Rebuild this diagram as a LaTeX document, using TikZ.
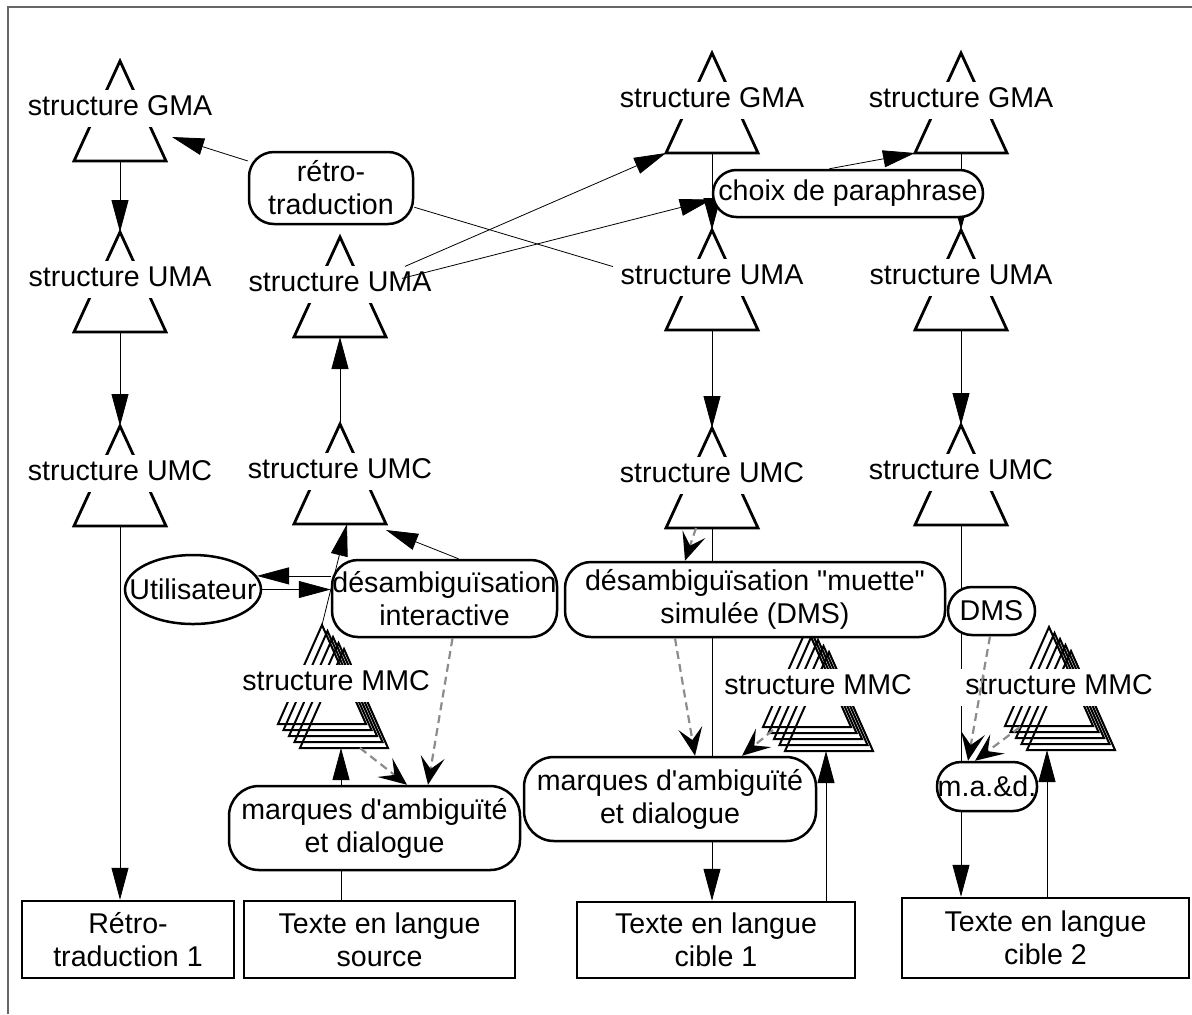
\documentclass[tikz,border=0pt]{standalone}
\usepackage{fontspec}
\setmainfont{Liberation Sans}[Ligatures=TeXOff]
\usepackage{tikz}
\usetikzlibrary{arrows.meta, positioning, shapes.geometric, backgrounds}
\newcommand\fsz{\fontsize{14.3pt}{16.5pt}\selectfont}

\begin{document}
\begin{tikzpicture}[x=0.5pt, y=-0.5pt, line width=1.6pt, line join=miter,
    every node/.style={font=\fsz},
    lbl/.style={fill=white, inner xsep=3pt, inner ysep=2pt, text height=11pt, text depth=3.5pt},
    rbox/.style={draw, fill=white, line width=1.25pt, align=center, inner sep=0pt, rounded corners=13pt},
    tbox/.style={draw, fill=white, line width=1.25pt, align=center, inner sep=0pt},
    >={Triangle[length=16pt, width=8.5pt]},
    dsh/.style={draw=black!45, line width=1.1pt, dash pattern=on 4pt off 2.5pt,
      -{Stealth[color=black, length=14pt, width=12pt, inset=6pt]}}]
  \useasboundingbox (0,0) rectangle (1192,1014);
  \draw[black!60, line width=0.8pt] (8,1014) -- (8,7) -- (1192,7);

  % structures (triangles)
  \foreach \nm/\px/\py/\lab in {gma1/120/61/GMA, uma1/120/232/UMA, umc1/120/426/UMC,
      uma2/340/237/UMA, umc2/340/424/UMC,
      gma3/712/53/GMA, uma3/712/230/UMA, umc3/712/428/UMC,
      gma4/961/53/GMA, uma4/961/230/UMA, umc4/961/425/UMC}{
    \draw[line width=1.4pt] (\px-46,\py+100) -- (\px,\py) -- (\px+46,\py+100) -- cycle;
    \coordinate (\nm-t) at (\px,\py);
    \coordinate (\nm-b) at (\px,\py+100);
    \coordinate (\nm-bl) at (\px-46,\py+100);
    \coordinate (\nm-br) at (\px+46,\py+100);
    \node[lbl] (\nm) at (\px,\py+47) {structure \lab};
  }
  \coordinate (gma1-r) at (172,137);

  % stacked MMC structures
  \foreach \nm/\px/\py/\ax/\lx/\ly in {mmc2/322/625/341/336/683,
      mmc3/807/628/826/818/687, mmc4/1049/627/1047/1059/687}{
    \foreach \i in {0,...,4}
      \draw[line width=1pt] (\px+5.5*\i-44,\py+6*\i+99) -- (\px+5.5*\i,\py+6*\i)
        -- (\px+5.5*\i+44,\py+6*\i+99) -- cycle;
    \coordinate (\nm-t) at (\px,\py);
    \coordinate (\nm-b) at (\ax,\py+123);
    \node[lbl] (\nm) at (\lx,\ly) {structure MMC};
  }

  % boxes
  \node[rbox, rounded corners=12.5pt, minimum width=82pt, minimum height=36pt] (retro) at (331,188) {rétro-\\traduction};
  \node[rbox, rounded corners=11.75pt, minimum width=135pt, minimum height=23.5pt] (choix) at (848,193.5) {choix de paraphrase};
  \node[draw, fill=white, line width=1.25pt, ellipse, inner sep=0pt, minimum width=68pt, minimum height=34.5pt] (util) at (193,589.5) {\makebox[0pt]{Utilisateur}};
  \node[rbox, minimum width=112.5pt, minimum height=38.5pt] (desint) at (444.5,598.5) {désambiguïsation\\interactive};
  \node[rbox, minimum width=190pt, minimum height=37.5pt] (dms3) at (755,599.5) {désambiguïsation "muette"\\simulée (DMS)};
  \node[rbox, rounded corners=12pt, minimum width=43.5pt, minimum height=24pt] (dms4) at (991.5,611) {DMS};
  \node[rbox, rounded corners=15pt, minimum width=145.5pt, minimum height=42pt] (marq2) at (374.5,828) {marques d'ambiguïté\\et dialogue};
  \node[rbox, rounded corners=15pt, minimum width=146pt, minimum height=42pt] (marq3) at (670,799) {marques d'ambiguïté\\et dialogue};
  \node[rbox, rounded corners=12pt, minimum width=50pt, minimum height=24.5pt] (mad4) at (987,786.5) {m.a.\&d.};
  \node[tbox, minimum width=106pt, minimum height=38.5pt] (bret) at (128,939.5) {Rétro-\\traduction 1};
  \node[tbox, minimum width=135.5pt, minimum height=38.5pt] (bsrc) at (379.5,939.5) {Texte en langue\\source};
  \node[tbox, minimum width=139pt, minimum height=38pt] (bc1) at (716,940) {Texte en langue\\cible 1};
  \node[tbox, minimum width=143.5pt, minimum height=40pt] (bc2) at (1045.5,938) {Texte en langue\\cible 2};

  % connectors behind the boxes
  \begin{pgfonlayer}{background}
    \draw[->] (gma3-b) -- (uma3-t);
    \draw[->] (gma4-b) -- (uma4-t);
    \draw (umc3-b) -- (umc3-b |- marq3.north);
    \draw (umc4-b) -- (umc4-b |- mad4.north);
  \end{pgfonlayer}

  \draw[->] (gma1-b) -- (uma1-t);
  \draw[->] (uma1-b) -- (umc1-t);
  \draw[->] (umc1-b) -- (umc1-b |- bret.north);
  \draw[->] (umc2-t) -- (uma2-b);
  \draw[->] (uma3-b) -- (umc3-t);
  \draw[->] (uma4-b) -- (umc4-t);
  \draw[->] (marq3.south -| umc3-b) -- (bc1.north -| umc3-b);
  \draw[->] (mad4.south -| umc4-b) -- (bc2.north -| umc4-b);
  \draw (marq2.south -| mmc2-b) -- (bsrc.north -| mmc2-b);
  \draw[->] (marq2.north -| mmc2-b) -- (mmc2-b);
  \draw[->] (bc1.north -| mmc3-b) -- (mmc3-b);
  \draw[->] (bc2.north -| mmc4-b) -- (mmc4-b);
  \draw[->] (retro.162) -- (gma1-r);
  \draw (retro.-13) -- (uma3.174);
  \draw[->] ([shift={(-34,2.5)}]uma2.north east) -- (gma3-bl);
  \draw[->] ([shift={(-37,14.5)}]uma2.north east) -- ([yshift=-3pt]choix.west);
  \draw[->] (choix.127) -- (gma4-bl);
  \draw[->] (mmc2-t) -- ([xshift=3.5pt]umc2-b);
  \draw[->] ([xshift=7pt]desint.north) -- ([yshift=-3pt]umc2-br);
  \draw[->] (desint.west |- util.12) -- (util.12);
  \draw[->] (util.east) -- (util.east -| desint.west);

  % dashed (simulated) links
  \draw[dsh] ([xshift=4pt]desint.south) -- ([xshift=26.75pt]marq2.north);
  \draw[dsh] ([shift={(19,0)}]mmc2-b) -- ([xshift=16.25pt]marq2.north);
  \draw[dsh] ([xshift=-8pt]umc3-b) -- ([xshift=-35pt]dms3.north);
  \draw[dsh] ([xshift=-40pt]dms3.south) -- ([xshift=12.5pt]marq3.north);
  \draw[dsh] ([shift={(-53,-21)}]mmc3-b) -- ([xshift=36pt]marq3.north);
  \draw[dsh] ([xshift=-0.75pt]dms4.south) -- ([xshift=-9.5pt]mad4.north);
  \draw[dsh] ([shift={(-27,-23)}]mmc4-b) -- ([xshift=-6pt]mad4.north);
\end{tikzpicture}
\end{document}
